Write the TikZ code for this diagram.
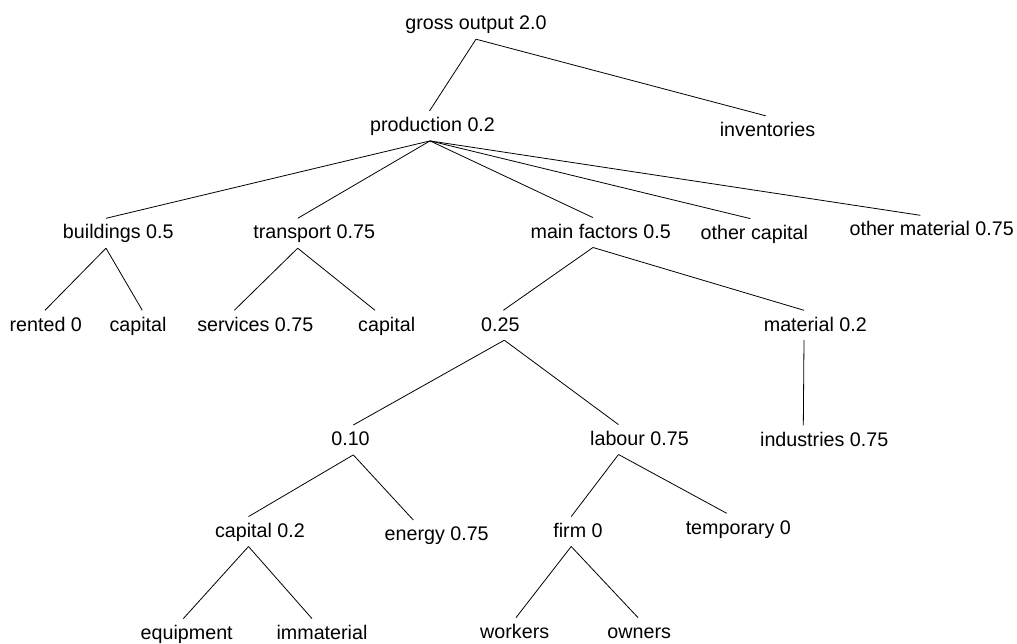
\documentclass[tikz,border=0pt]{standalone}
\usepackage{fontspec}
\setmainfont{Liberation Sans}
\begin{document}
\begin{tikzpicture}[x=1pt,y=-1pt,
  lbl/.style={anchor=base,inner xsep=0pt,inner ysep=6.5pt,text height=14pt,text depth=2.5pt,
    font=\fontsize{19.7}{24}\selectfont},
  edge/.style={draw=black,line width=0.8pt}]
\useasboundingbox (0,0) rectangle (1017,644);
% level 0
\node[lbl] (gross) at (476,30) {gross output 2.0};
% level 1
\node[lbl] (prod) at (432.5,131.7) {production 0.2};
\node[lbl] (inv) at (767.5,136.5) {inventories};
% level 2
\node[lbl] (bld) at (118.3,239) {buildings 0.5};
\node[lbl] (trn) at (314.2,239) {transport 0.75};
\node[lbl] (mf) at (600.7,238.3) {main factors 0.5};
\node[lbl] (oc) at (754.3,239.3) {other capital};
\node[lbl] (om) at (931.7,236) {other material 0.75};
% level 3
\node[lbl] (rent) at (45.8,331) {rented 0};
\node[lbl] (capa) at (138,331) {capital};
\node[lbl] (serv) at (255.3,331) {services 0.75};
\node[lbl] (capb) at (386.7,331) {capital};
\node[lbl] (qa) at (500.3,331) {0.25};
\node[lbl] (mat) at (815.3,331) {material 0.2};
% level 4
\node[lbl] (qb) at (350.5,445.7) {0.10};
\node[lbl] (lab) at (639.5,445.3) {labour 0.75};
\node[lbl] (ind) at (824.2,446) {industries 0.75};
% level 5
\node[lbl] (capc) at (260,537.3) {capital 0.2};
\node[lbl] (ener) at (436.7,540.7) {energy 0.75};
\node[lbl] (firm) at (578,537.3) {firm 0};
\node[lbl] (temp) at (738.3,534) {temporary 0};
% level 6
\node[lbl] (equip) at (186.7,639.3) {equipment};
\node[lbl] (immat) at (322,639.3) {immaterial};
\node[lbl] (work) at (514.7,638.3) {workers};
\node[lbl] (own) at (639.2,638.3) {owners};
% connectors
\draw[edge] ([xshift=0pt]gross.south) -- ([xshift=-3pt]prod.north);
\draw[edge] ([xshift=0pt]gross.south) -- ([xshift=-1.8pt]inv.north);
\draw[edge] ([xshift=-2.5pt]prod.south) -- ([xshift=-12.3pt]bld.north);
\draw[edge] ([xshift=-2.5pt]prod.south) -- ([xshift=-16.5pt]trn.north);
\draw[edge] ([xshift=-2.5pt]prod.south) -- ([xshift=-7.7pt]mf.north);
\draw[edge] ([xshift=-2.5pt]prod.south) -- ([xshift=-4pt]oc.north);
\draw[edge] ([xshift=-2.5pt]prod.south) -- ([xshift=-11.4pt]om.north);
\draw[edge] ([xshift=-12.3pt]bld.south) -- ([xshift=-0.8pt]rent.north);
\draw[edge] ([xshift=-12.3pt]bld.south) -- ([xshift=4.3pt]capa.north);
\draw[edge] ([xshift=-16.5pt]trn.south) -- ([xshift=-21pt]serv.north);
\draw[edge] ([xshift=-16.5pt]trn.south) -- ([xshift=-11.7pt]capb.north);
\draw[edge] ([xshift=-7.7pt]mf.south) -- ([xshift=3pt]qa.north);
\draw[edge] ([xshift=-7.7pt]mf.south) -- ([xshift=-11.3pt]mat.north);
\draw[edge] ([xshift=4pt]qa.south) -- ([xshift=2.8pt]qb.north);
\draw[edge] ([xshift=4pt]qa.south) -- ([xshift=-21pt]lab.north);
\draw[edge] ([xshift=-11.3pt]mat.south) -- ([xshift=-20.9pt]ind.north);
\draw[edge] ([xshift=2.8pt]qb.south) -- ([xshift=-11.5pt]capc.north);
\draw[edge] ([xshift=2.8pt]qb.south) -- ([xshift=-23.4pt]ener.north);
\draw[edge] ([xshift=-21pt]lab.south) -- ([xshift=-6.8pt]firm.north);
\draw[edge] ([xshift=-21pt]lab.south) -- ([xshift=-11.6pt]temp.north);
\draw[edge] ([xshift=-11.5pt]capc.south) -- ([xshift=-3.4pt]equip.north);
\draw[edge] ([xshift=-11.5pt]capc.south) -- ([xshift=-10pt]immat.north);
\draw[edge] ([xshift=-6.8pt]firm.south) -- ([xshift=1.3pt]work.north);
\draw[edge] ([xshift=-6.8pt]firm.south) -- ([xshift=-1.2pt]own.north);
\end{tikzpicture}
\end{document}
